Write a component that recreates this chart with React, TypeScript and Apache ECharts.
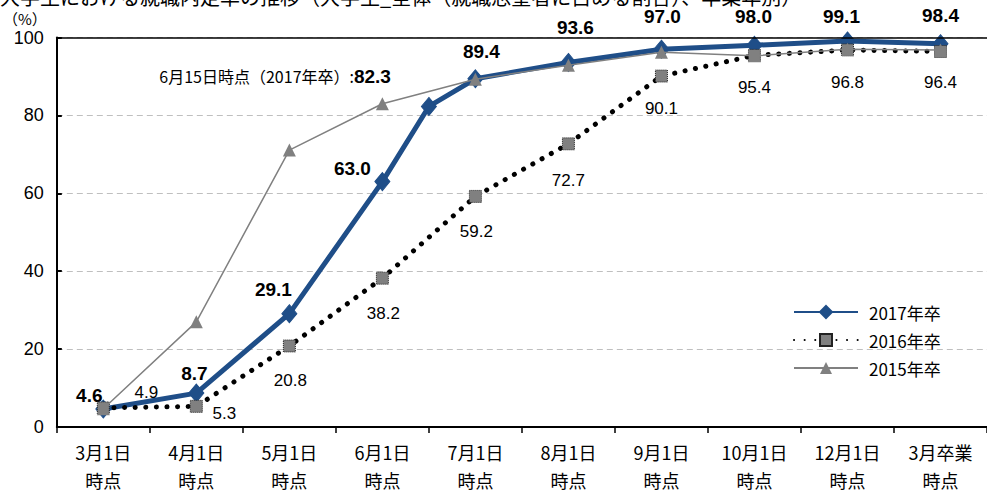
import React, { useEffect, useRef } from "react";
import * as echarts from "echarts";

const categories = [
  "3月1日\n時点",
  "4月1日\n時点",
  "5月1日\n時点",
  "6月1日\n時点",
  "7月1日\n時点",
  "8月1日\n時点",
  "9月1日\n時点",
  "10月1日\n時点",
  "12月1日\n時点",
  "3月卒業\n時点",
];
// 2017年卒 includes the extra 6月15日 point (between 6月1日 and 7月1日)
const x2017 = [0, 1, 2, 3, 3.5, 4, 5, 6, 7, 8, 9];
const v2017 = [4.6, 8.7, 29.1, 63.0, 82.3, 89.4, 93.6, 97.0, 98.0, 99.1, 98.4];
const v2016 = [4.9, 5.3, 20.8, 38.2, 59.2, 72.7, 90.1, 95.4, 96.8, 96.4];
const v2015 = [4.7, 27.0, 71.1, 83.0, 89.3, 92.9, 96.2, 95.3, 97.0, 96.8];
const seriesNames = ["2017年卒", "2016年卒", "2015年卒"];
const yTicks = [0, 20, 40, 60, 80, 100];
const annotationPrefix = "6月15日時点（2017年卒）:";
const titleText = "大学生における就職内定率の推移（大学生_全体（就職志望者に占める割合）、卒業年別）";

// label placement (style, not data)
const labelOffsets2017: (number[] | null)[] = [
  [-14, -14],
  [-2, -20],
  [-16, -24],
  [-30, -13],
  null,
  [6, -27],
  [7, -35],
  [1, -33],
  [-1, -29],
  [-6, -25],
  [0, -28],
];
const labelOffsets2016: number[][] = [
  [43, -15],
  [28, 7],
  [1, 35],
  [1, 35],
  [1, 35],
  [0, 37],
  [0, 32],
  [0, 32],
  [0, 33],
  [0, 31],
];

const CJK = "'Noto Sans CJK JP', 'Noto Sans', sans-serif";
const NUM = "'Liberation Sans', 'Noto Sans CJK JP', sans-serif";

export default function App() {
  const ref = useRef<HTMLDivElement>(null);

  useEffect(() => {
    if (!ref.current) return;
    document.body.style.margin = "0";
    const chart = echarts.init(ref.current, null, { renderer: "svg" });

    const data2017 = v2017.map((v, i) => {
      const off = labelOffsets2017[i];
      if (off === null) {
        return {
          value: [x2017[i], v],
          label: {
            show: true,
            position: "left",
            distance: 0,
            offset: [-30, -30],
            fontWeight: "normal",
            formatter: (p: any) => `{a|${annotationPrefix}}{b|${p.value[1].toFixed(1)}}`,
            rich: {
              a: { fontSize: 16, fontWeight: "normal", fontFamily: CJK, color: "#000" },
              b: { fontSize: 19, fontWeight: "bold", fontFamily: NUM, color: "#000" },
            },
          },
        };
      }
      return { value: [x2017[i], v], label: { offset: off } };
    });

    const data2016 = v2016.map((v, i) => ({
      value: [i, v],
      label: { offset: labelOffsets2016[i] },
    }));
    const data2015 = v2015.map((v, i) => [i, v]);

    chart.setOption({
      animation: false,
      textStyle: { fontFamily: CJK },
      graphic: [
        {
          type: "text",
          left: 0,
          top: -14,
          z: -1,
          style: { text: titleText, fontSize: 20, fill: "#000", fontFamily: CJK },
        },
      ],
      grid: { left: 54, top: 37.5, width: 940, height: 394, containLabel: false },
      legend: {
        orient: "vertical",
        left: 788,
        top: 298,
        itemWidth: 64,
        itemHeight: 15,
        itemGap: 10,
        selectedMode: false,
        data: seriesNames,
        textStyle: { fontSize: 17, color: "#000", fontFamily: CJK, lineHeight: 18, padding: [0, 0, 0, 6] },
      },
      xAxis: [
        {
          type: "category",
          data: categories,
          boundaryGap: true,
          position: "bottom",
          axisLine: { show: true, onZero: false, lineStyle: { color: "#000", width: 2 } },
          axisTick: { show: true, inside: false, length: 6, lineStyle: { color: "#000", width: 1.5 } },
          axisLabel: {
            color: "#000",
            fontSize: 18,
            lineHeight: 28,
            margin: 11,
            fontFamily: CJK,
            interval: 0,
          },
          splitLine: { show: false },
        },
        {
          type: "value",
          min: -0.5,
          max: 9.5,
          show: false,
          position: "bottom",
          axisLine: { onZero: false },
          splitLine: { show: false },
        },
      ],
      yAxis: {
        type: "value",
        min: yTicks[0],
        max: yTicks[yTicks.length - 1],
        interval: yTicks[1] - yTicks[0],
        name: "（%）",
        nameLocation: "end",
        nameGap: 12,
        nameTextStyle: { color: "#000", fontSize: 15, align: "right", padding: [0, 10, 0, 0], fontFamily: CJK },
        axisLine: { show: true, onZero: false, lineStyle: { color: "#000", width: 2 } },
        axisTick: { show: true, inside: true, length: 5, lineStyle: { color: "#000", width: 2 } },
        axisLabel: { color: "#000", fontSize: 18, margin: 13, fontFamily: NUM },
        splitLine: { show: true, lineStyle: { color: "#BFBFBF", type: [6, 4], width: 1 } },
      },
      series: [
        {
          name: seriesNames[0],
          type: "line",
          xAxisIndex: 1,
          data: data2017,
          symbol: "diamond",
          symbolSize: [15, 18],
          z: 2,
          lineStyle: { color: "#1F4E88", width: 5 },
          itemStyle: { color: "#1F4E88", borderColor: "#1F4E88", borderWidth: 1 },
          label: {
            show: true,
            position: "inside",
            formatter: (p: any) => p.value[1].toFixed(1),
            fontSize: 19,
            fontWeight: "bold",
            color: "#000",
            fontFamily: NUM,
          },
          markLine: {
            silent: true,
            symbol: ["none", "none"],
            label: { show: false },
            lineStyle: { color: "#000", type: "solid", width: 1.5 },
            data: [{ yAxis: yTicks[yTicks.length - 1] }],
          },
        },
        {
          name: seriesNames[1],
          type: "line",
          xAxisIndex: 1,
          data: data2016,
          symbol: "rect",
          symbolSize: 12,
          z: 3,
          lineStyle: { color: "#000", width: 5, type: [0.1, 10.5], cap: "round" },
          itemStyle: { color: "#808080", borderColor: "#222", borderWidth: 1, borderType: "dotted" },
          label: {
            show: true,
            position: "inside",
            formatter: (p: any) => p.value[1].toFixed(1),
            fontSize: 17,
            color: "#000",
            fontFamily: NUM,
          },
        },
        {
          name: seriesNames[2],
          type: "line",
          xAxisIndex: 1,
          data: data2015,
          symbol: "triangle",
          symbolSize: 13,
          z: 4,
          lineStyle: { color: "#808080", width: 1.5 },
          itemStyle: { color: "#808080" },
        },
      ],
    });

    return () => {
      chart.dispose();
    };
  }, []);

  return (
    <div
      ref={ref}
      style={{ position: "absolute", left: 0, top: 0, width: 987, height: 494 }}
    />
  );
}
